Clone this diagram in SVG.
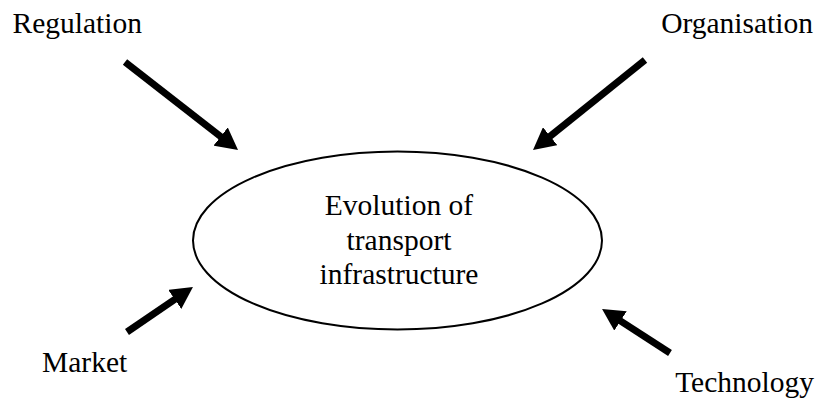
<svg xmlns="http://www.w3.org/2000/svg" width="820" height="400" viewBox="0 0 820 400">
<style>
.lbl{font-family:"Liberation Serif","Times New Roman",serif;font-size:29.5px;fill:#000}
.arr{stroke:#000;stroke-width:7;fill:none}
</style>
<defs>
<marker id="ah" markerUnits="userSpaceOnUse" markerWidth="22" markerHeight="23" refX="8" refY="11.5" orient="auto">
<path d="M0,0 L22,11.5 L0,23 z" fill="#000"/>
</marker>
</defs>
<rect width="820" height="400" fill="#fff"/>
<g id="center">
<ellipse cx="397.5" cy="240.5" rx="204.5" ry="89" fill="none" stroke="#000" stroke-width="2"/>
<text class="lbl" x="399" y="215" text-anchor="middle">Evolution of</text>
<text class="lbl" x="399" y="250" text-anchor="middle">transport</text>
<text class="lbl" x="399" y="284" text-anchor="middle">infrastructure</text>
</g>
<g id="regulation"><text class="lbl" x="12.5" y="33">Regulation</text></g>
<g id="organisation"><text class="lbl" x="813" y="33" text-anchor="end">Organisation</text></g>
<g id="market"><text class="lbl" x="42" y="372">Market</text></g>
<g id="technology"><text class="lbl" x="814" y="392" text-anchor="end">Technology</text></g>
<g id="connectors">
<line class="arr" x1="125" y1="62" x2="227" y2="141.4" marker-end="url(#ah)"/>
<line class="arr" x1="645" y1="60" x2="543.9" y2="141.2" marker-end="url(#ah)"/>
<line class="arr" x1="127" y1="332" x2="181.4" y2="294.9" marker-end="url(#ah)"/>
<line class="arr" x1="670" y1="353" x2="613.8" y2="316.6" marker-end="url(#ah)"/>
</g>
</svg>
